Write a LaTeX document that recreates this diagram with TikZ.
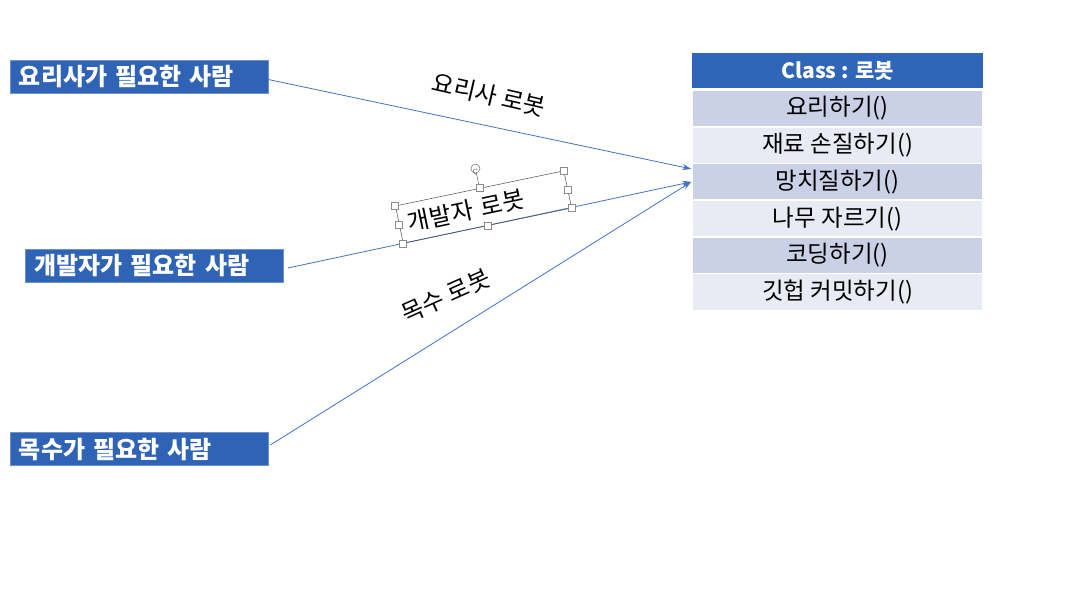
\documentclass[tikz,border=0pt]{standalone}
\usepackage{fontspec}
\setmainfont{Noto Sans CJK KR}
\usetikzlibrary{arrows.meta,calc}
\definecolor{boxblue}{HTML}{2F63B6}
\definecolor{hdrblue}{HTML}{3066B9}
\definecolor{rowA}{HTML}{CAD1E6}
\definecolor{rowB}{HTML}{E8EAF4}
\definecolor{lineblue}{HTML}{4472C4}
\tikzset{
  person/.style={fill=boxblue, draw=boxblue!70!white, line width=0.6pt, text=white, font=\bfseries\fontsize{24}{26}\selectfont,
    minimum height=33pt, text width=240pt, align=left, inner xsep=9pt, inner ysep=0pt},
  hdr/.style={fill=hdrblue, text=white, font=\bfseries\fontsize{21}{24}\selectfont, minimum width=291pt, minimum height=35pt, inner sep=0pt},
  rowa/.style={fill=rowA, draw=white, line width=1.5pt, font=\fontsize{23.5}{26}\selectfont, minimum width=291pt, minimum height=36.7pt, inner sep=0pt},
  rowb/.style={rowa, fill=rowB},
  conn/.style={lineblue, line width=0.8pt, -{Stealth[length=9pt,width=6pt]}},
  lbl/.style={font=\fontsize{24}{26}\selectfont, inner sep=0pt},
  handle/.style={draw=black!45, fill=white, line width=0.5pt, minimum size=7pt, inner sep=0pt},
}
\begin{document}
\begin{tikzpicture}[x=1pt,y=-1pt]
\useasboundingbox (0,0) rectangle (1090,609);
% people
\node[person] (b1) at (139,76.5) {요리사가 필요한 사람};
\node[person] (b2) at (154.5,266) {개발자가 필요한 사람};
\node[person] (b3) at (139,449) {목수가 필요한 사람};
% class table
\node[hdr] (h) at (837.5,70.5) {Class : 로봇};
\node[rowa] (r1) at (837.5,108.5) {요리하기()};
\node[rowb] (r2) at (837.5,145.2) {재료 손질하기()};
\node[rowa] (r3) at (837.5,181.9) {망치질하기()};
\node[rowb] (r4) at (837.5,218.6) {나무 자르기()};
\node[rowa] (r5) at (837.5,255.3) {코딩하기()};
\node[rowb] (r6) at (837.5,292.0) {깃헙 커밋하기()};
% arrow targets
\coordinate (t1) at ($(r3.west)+(0,-13)$);
\coordinate (t2) at (r3.west);
% connectors
\draw[conn] ([yshift=-3pt]b1.east) -- (t1);
\draw[conn] ([xshift=4pt,yshift=-2pt]b2.east) -- (t2);
\draw[conn] ([xshift=2pt,yshift=4pt]b3.east) -- (t2);
% labels
\node[lbl, rotate=-13] (l1) at (489,95) {요리사 로봇};
\node[lbl, rotate=24] (l3) at (446,296) {목수 로봇};
% selected text box
\node[draw=black!70, line width=0.5pt, rotate=11.8, minimum width=172pt, minimum height=38pt,
      text width=154pt, align=left, inner xsep=9pt, inner ysep=0pt, font=\fontsize{24}{26}\selectfont] (tb) at (483.5,207) {개발자 로봇};
\coordinate (rot) at ($(tb.north)!-20pt!(tb.center)$);
\draw[black!60, line width=0.5pt] (tb.north) -- (rot);
\foreach \a [count=\i] in {north west,north,north east,east,south east,south,south west,west}
  \node[handle] (hd\i) at (tb.\a) {};
\node[draw=black!50, fill=white, circle, minimum size=9pt, inner sep=0pt, line width=0.6pt] (rh) at (rot) {};
\draw[black!50, line width=0.6pt, ->, >={Stealth[length=2pt]}] ($(rh.center)+(2.2,1.5)$) arc (30:300:2.4pt);
\end{tikzpicture}
\end{document}
